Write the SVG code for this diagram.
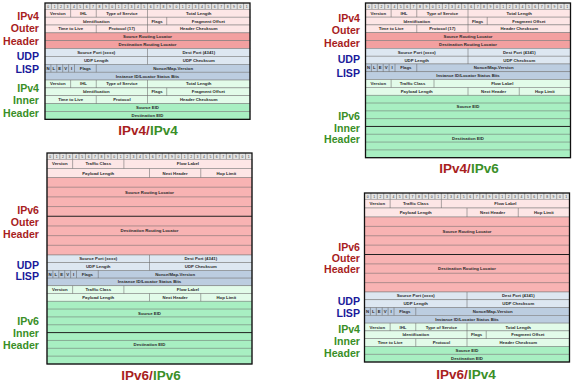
<svg xmlns="http://www.w3.org/2000/svg" xmlns:xlink="http://www.w3.org/1999/xlink" width="579" height="382" viewBox="0 0 579 382">
<style>
.o1{fill:#fde6e6;stroke:#777;stroke-width:.5}
.o2{fill:#f3a0a0;stroke:#777;stroke-width:.5}
.o3{fill:#f8b3b3;stroke:#777;stroke-width:.5}
.u1{fill:#dde7f1;stroke:#777;stroke-width:.5}
.u2{fill:#bccde0;stroke:#777;stroke-width:.5}
.i1{fill:#e2fbe9;stroke:#777;stroke-width:.5}
.i2{fill:#a8efc2;stroke:#777;stroke-width:.5}
.dv{fill:none;stroke:#666;stroke-width:.55}
.hl{fill:none;stroke:#666;stroke-width:.5}
.tk{fill:none;stroke:#222;stroke-width:1}
.bd{fill:none;stroke:#111;stroke-width:1.3}
.t{font-family:"Liberation Sans",Arial,sans-serif;font-size:4.3px;font-weight:bold;fill:#2a2a2a;text-anchor:middle}
.dg{font-family:"Liberation Sans",Arial,sans-serif;font-size:3.4px;fill:#333;text-anchor:middle}
.lab{font-family:"Liberation Sans",Arial,sans-serif;font-size:10.6px;font-weight:bold;text-anchor:end}
.ttl{font-family:"Liberation Sans",Arial,sans-serif;font-size:13.5px;font-weight:bold;text-anchor:middle}
.r{fill:#a81e1e}
.b{fill:#1a1a9a}
.g{fill:#3a8f28}
</style>
<defs>
<g id="bits">
<rect x="0" y="0" width="205" height="6.3" fill="#e4e4e4"/>
<path class="dv" d="M6.41 0V6.3M12.81 0V6.3M19.22 0V6.3M25.63 0V6.3M32.03 0V6.3M38.44 0V6.3M44.84 0V6.3M51.25 0V6.3M57.66 0V6.3M64.06 0V6.3M70.47 0V6.3M76.88 0V6.3M83.28 0V6.3M89.69 0V6.3M96.09 0V6.3M102.5 0V6.3M108.91 0V6.3M115.31 0V6.3M121.72 0V6.3M128.13 0V6.3M134.53 0V6.3M140.94 0V6.3M147.34 0V6.3M153.75 0V6.3M160.16 0V6.3M166.56 0V6.3M172.97 0V6.3M179.38 0V6.3M185.78 0V6.3M192.19 0V6.3M198.59 0V6.3"/>
<text class="dg" y="4.5" x="3.2 9.61 16.02 22.42 28.83 35.23 41.64 48.05 54.45 60.86 67.27 73.67 80.08 86.48 92.89 99.3 105.7 112.11 118.52 124.92 131.33 137.73 144.14 150.55 156.95 163.36 169.77 176.17 182.58 188.98 195.39 201.8">01234567890123456789012345678901</text>
</g>
</defs>

<!-- Panel 1: IPv4/IPv4 -->
<g id="ipv4-ipv4">
<g id="p1-labels">
<text class="lab r" x="39" y="20">IPv4</text>
<text class="lab r" x="39" y="32">Outer</text>
<text class="lab r" x="39" y="45">Header</text>
<text class="lab b" x="39" y="60">UDP</text>
<text class="lab b" x="39" y="73">LISP</text>
<text class="lab g" x="39" y="91.5">IPv4</text>
<text class="lab g" x="39" y="103.5">Inner</text>
<text class="lab g" x="39" y="116.5">Header</text>
</g>
<g id="p1-table" transform="translate(45,0)">
<use href="#bits" xlink:href="#bits" y="3"/>
<rect class="o1" y="9.3" width="205" height="7.86"/>
<rect class="o1" y="17.16" width="205" height="7.86"/>
<rect class="o1" y="25.02" width="205" height="7.86"/>
<rect class="o2" y="32.88" width="205" height="7.86"/>
<rect class="o2" y="40.74" width="205" height="7.86"/>
<rect class="u1" y="48.6" width="205" height="7.86"/>
<rect class="u1" y="56.46" width="205" height="7.86"/>
<rect class="u2" y="64.32" width="205" height="7.86"/>
<rect class="u2" y="72.18" width="205" height="7.86"/>
<rect class="i1" y="80.04" width="205" height="7.86"/>
<rect class="i1" y="87.9" width="205" height="7.86"/>
<rect class="i1" y="95.76" width="205" height="7.86"/>
<rect class="i2" y="103.62" width="205" height="7.86"/>
<rect class="i2" y="111.48" width="205" height="7.86"/>
<path class="dv" d="M25.63 9.3V17.16M51.25 9.3V17.16M102.5 9.3V17.16M102.5 17.16V25.02M121.72 17.16V25.02M51.25 25.02V32.88M102.5 25.02V32.88M102.5 48.6V64.32M5.9 64.32V72.18M11.8 64.32V72.18M17.7 64.32V72.18M23.6 64.32V72.18M29.5 64.32V72.18M51.25 64.32V72.18M25.63 80.04V87.9M51.25 80.04V87.9M102.5 80.04V87.9M102.5 87.9V95.76M121.72 87.9V95.76M51.25 95.76V103.62M102.5 95.76V103.62"/>
<text class="t" x="12.81" y="14.73">Version</text>
<text class="t" x="38.44" y="14.73">IHL</text>
<text class="t" x="76.88" y="14.73">Type of Service</text>
<text class="t" x="153.75" y="14.73">Total Length</text>
<text class="t" x="51.25" y="22.59">Identification</text>
<text class="t" x="112.11" y="22.59">Flags</text>
<text class="t" x="163.36" y="22.59">Fragment Offset</text>
<text class="t" x="25.63" y="30.45">Time to Live</text>
<text class="t" x="76.88" y="30.45">Protocol (17)</text>
<text class="t" x="153.75" y="30.45">Header Checksum</text>
<text class="t" x="102.5" y="38.31">Source Routing Locator</text>
<text class="t" x="102.5" y="46.17">Destination Routing Locator</text>
<text class="t" x="51.25" y="54.03">Source Port (xxxx)</text>
<text class="t" x="153.75" y="54.03">Dest Port (4341)</text>
<text class="t" x="51.25" y="61.89">UDP Length</text>
<text class="t" x="153.75" y="61.89">UDP Checksum</text>
<text class="t" x="2.95" y="69.75">N</text>
<text class="t" x="8.85" y="69.75">L</text>
<text class="t" x="14.75" y="69.75">E</text>
<text class="t" x="20.65" y="69.75">V</text>
<text class="t" x="26.55" y="69.75">I</text>
<text class="t" x="40.4" y="69.75">Flags</text>
<text class="t" x="128.1" y="69.75">Nonce/Map-Version</text>
<text class="t" x="102.5" y="77.61">Instance ID/Locator Status Bits</text>
<text class="t" x="12.81" y="85.47">Version</text>
<text class="t" x="38.44" y="85.47">IHL</text>
<text class="t" x="76.88" y="85.47">Type of Service</text>
<text class="t" x="153.75" y="85.47">Total Length</text>
<text class="t" x="51.25" y="93.33">Identification</text>
<text class="t" x="112.11" y="93.33">Flags</text>
<text class="t" x="163.36" y="93.33">Fragment Offset</text>
<text class="t" x="25.63" y="101.19">Time to Live</text>
<text class="t" x="76.88" y="101.19">Protocol</text>
<text class="t" x="153.75" y="101.19">Header Checksum</text>
<text class="t" x="102.5" y="109.05">Source EID</text>
<text class="t" x="102.5" y="116.91">Destination EID</text>
<rect class="bd" x="0" y="3" width="205" height="116.34"/>
</g>
<text class="ttl" x="148" y="135"><tspan class="r">IPv4/</tspan><tspan class="g">IPv4</tspan></text>
</g>

<!-- Panel 2: IPv4/IPv6 -->
<g id="ipv4-ipv6">
<g id="p2-labels">
<text class="lab r" x="360" y="22">IPv4</text>
<text class="lab r" x="360" y="33.5">Outer</text>
<text class="lab r" x="360" y="47">Header</text>
<text class="lab b" x="360" y="63">UDP</text>
<text class="lab b" x="360" y="77">LISP</text>
<text class="lab g" x="360" y="120">IPv6</text>
<text class="lab g" x="360" y="132">Inner</text>
<text class="lab g" x="360" y="143">Header</text>
</g>
<g id="p2-table" transform="translate(365.5,0)">
<use href="#bits" xlink:href="#bits" y="3"/>
<rect class="o1" y="9.3" width="205" height="7.81"/>
<rect class="o1" y="17.11" width="205" height="7.81"/>
<rect class="o1" y="24.92" width="205" height="7.81"/>
<rect class="o2" y="32.73" width="205" height="7.81"/>
<rect class="o2" y="40.54" width="205" height="7.81"/>
<rect class="u1" y="48.35" width="205" height="7.81"/>
<rect class="u1" y="56.16" width="205" height="7.81"/>
<rect class="u2" y="63.97" width="205" height="7.81"/>
<rect class="u2" y="71.78" width="205" height="7.81"/>
<rect class="i1" y="79.59" width="205" height="7.81"/>
<rect class="i1" y="87.4" width="205" height="7.81"/>
<rect class="i2" y="95.21" width="205" height="62.48"/>
<path class="hl" d="M0 103.02H205M0 110.83H205M0 118.64H205M0 134.26H205M0 142.07H205M0 149.88H205"/>
<path class="tk" d="M0 126.45H205"/>
<path class="dv" d="M25.63 9.3V17.11M51.25 9.3V17.11M102.5 9.3V17.11M102.5 17.11V24.92M121.72 17.11V24.92M51.25 24.92V32.73M102.5 24.92V32.73M102.5 48.35V63.97M5.9 63.97V71.78M11.8 63.97V71.78M17.7 63.97V71.78M23.6 63.97V71.78M29.5 63.97V71.78M51.25 63.97V71.78M25.63 79.59V87.4M68.5 79.59V87.4M102.5 87.4V95.21M153.75 87.4V95.21"/>
<text class="t" x="12.81" y="14.7">Version</text>
<text class="t" x="38.44" y="14.7">IHL</text>
<text class="t" x="76.88" y="14.7">Type of Service</text>
<text class="t" x="153.75" y="14.7">Total Length</text>
<text class="t" x="51.25" y="22.51">Identification</text>
<text class="t" x="112.11" y="22.51">Flags</text>
<text class="t" x="163.36" y="22.51">Fragment Offset</text>
<text class="t" x="25.63" y="30.32">Time to Live</text>
<text class="t" x="76.88" y="30.32">Protocol (17)</text>
<text class="t" x="153.75" y="30.32">Header Checksum</text>
<text class="t" x="102.5" y="38.13">Source Routing Locator</text>
<text class="t" x="102.5" y="45.94">Destination Routing Locator</text>
<text class="t" x="51.25" y="53.75">Source Port (xxxx)</text>
<text class="t" x="153.75" y="53.75">Dest Port (4341)</text>
<text class="t" x="51.25" y="61.56">UDP Length</text>
<text class="t" x="153.75" y="61.56">UDP Checksum</text>
<text class="t" x="2.95" y="69.37">N</text>
<text class="t" x="8.85" y="69.37">L</text>
<text class="t" x="14.75" y="69.37">E</text>
<text class="t" x="20.65" y="69.37">V</text>
<text class="t" x="26.55" y="69.37">I</text>
<text class="t" x="40.4" y="69.37">Flags</text>
<text class="t" x="128.1" y="69.37">Nonce/Map-Version</text>
<text class="t" x="102.5" y="77.18">Instance ID/Locator Status Bits</text>
<text class="t" x="12.81" y="84.99">Version</text>
<text class="t" x="47.06" y="84.99">Traffic Class</text>
<text class="t" x="136.75" y="84.99">Flow Label</text>
<text class="t" x="51.25" y="92.8">Payload Length</text>
<text class="t" x="128.13" y="92.8">Next Header</text>
<text class="t" x="179.38" y="92.8">Hop Limit</text>
<text class="t" x="102.5" y="108.42">Source EID</text>
<text class="t" x="102.5" y="139.66">Destination EID</text>
<rect class="bd" x="0" y="3" width="205" height="154.69"/>
</g>
<text class="ttl" x="469" y="173"><tspan class="r">IPv4/</tspan><tspan class="g">IPv6</tspan></text>
</g>

<!-- Panel 3: IPv6/IPv6 -->
<g id="ipv6-ipv6">
<g id="p3-labels">
<text class="lab r" x="39" y="214">IPv6</text>
<text class="lab r" x="39" y="226">Outer</text>
<text class="lab r" x="39" y="238">Header</text>
<text class="lab b" x="39" y="268.5">UDP</text>
<text class="lab b" x="39" y="280">LISP</text>
<text class="lab g" x="39" y="325">IPv6</text>
<text class="lab g" x="39" y="337">Inner</text>
<text class="lab g" x="39" y="348.5">Header</text>
</g>
<g id="p3-table" transform="translate(47,0)">
<use href="#bits" xlink:href="#bits" y="153"/>
<rect class="o1" y="159.3" width="205" height="9.2"/>
<rect class="o1" y="168.5" width="205" height="9"/>
<rect class="o3" y="177.5" width="205" height="77.5"/>
<path class="hl" d="M0 187.19H205M0 196.88H205M0 206.56H205M0 225.94H205M0 235.63H205M0 245.31H205"/>
<path class="tk" d="M0 216.25H205"/>
<rect class="u1" y="255" width="205" height="7.7"/>
<rect class="u1" y="262.7" width="205" height="7.7"/>
<rect class="u2" y="270.4" width="205" height="7.7"/>
<rect class="u2" y="278.1" width="205" height="7.7"/>
<rect class="i1" y="285.8" width="205" height="7.7"/>
<rect class="i1" y="293.5" width="205" height="7.7"/>
<rect class="i2" y="301.2" width="205" height="62.8"/>
<path class="hl" d="M0 309.05H205M0 316.9H205M0 324.75H205M0 340.45H205M0 348.3H205M0 356.15H205"/>
<path class="tk" d="M0 332.6H205"/>
<path class="dv" d="M25.63 159.3V168.5M76.88 159.3V168.5M102.5 168.5V177.5M153.75 168.5V177.5M102.5 255V270.4M5.9 270.4V278.1M11.8 270.4V278.1M17.7 270.4V278.1M23.6 270.4V278.1M29.5 270.4V278.1M51.25 270.4V278.1M25.63 285.8V293.5M76.88 285.8V293.5M102.5 293.5V301.2M153.75 293.5V301.2"/>
<text class="t" x="12.81" y="165.4">Version</text>
<text class="t" x="51.25" y="165.4">Traffic Class</text>
<text class="t" x="140.94" y="165.4">Flow Label</text>
<text class="t" x="51.25" y="174.5">Payload Length</text>
<text class="t" x="128.13" y="174.5">Next Header</text>
<text class="t" x="179.38" y="174.5">Hop Limit</text>
<text class="t" x="102.5" y="193.5">Source Routing Locator</text>
<text class="t" x="102.5" y="232.3">Destination Routing Locator</text>
<text class="t" x="51.25" y="260.35">Source Port (xxxx)</text>
<text class="t" x="153.75" y="260.35">Dest Port (4341)</text>
<text class="t" x="51.25" y="268.05">UDP Length</text>
<text class="t" x="153.75" y="268.05">UDP Checksum</text>
<text class="t" x="2.95" y="275.75">N</text>
<text class="t" x="8.85" y="275.75">L</text>
<text class="t" x="14.75" y="275.75">E</text>
<text class="t" x="20.65" y="275.75">V</text>
<text class="t" x="26.55" y="275.75">I</text>
<text class="t" x="40.4" y="275.75">Flags</text>
<text class="t" x="128.1" y="275.75">Nonce/Map-Version</text>
<text class="t" x="102.5" y="283.45">Instance ID/Locator Status Bits</text>
<text class="t" x="12.81" y="291.15">Version</text>
<text class="t" x="51.25" y="291.15">Traffic Class</text>
<text class="t" x="140.94" y="291.15">Flow Label</text>
<text class="t" x="51.25" y="298.85">Payload Length</text>
<text class="t" x="128.13" y="298.85">Next Header</text>
<text class="t" x="179.38" y="298.85">Hop Limit</text>
<text class="t" x="102.5" y="314.5">Source EID</text>
<text class="t" x="102.5" y="345.9">Destination EID</text>
<rect class="bd" x="0" y="153" width="205" height="211"/>
</g>
<text class="ttl" x="151" y="380"><tspan class="r">IPv6/</tspan><tspan class="g">IPv6</tspan></text>
</g>

<!-- Panel 4: IPv6/IPv4 -->
<g id="ipv6-ipv4">
<g id="p4-labels">
<text class="lab r" x="360" y="251">IPv6</text>
<text class="lab r" x="360" y="262">Outer</text>
<text class="lab r" x="360" y="273">Header</text>
<text class="lab b" x="360" y="305">UDP</text>
<text class="lab b" x="360" y="317">LISP</text>
<text class="lab g" x="360" y="333">IPv4</text>
<text class="lab g" x="360" y="345">Inner</text>
<text class="lab g" x="360" y="357">Header</text>
</g>
<g id="p4-table" transform="translate(364.5,0)">
<use href="#bits" xlink:href="#bits" y="193"/>
<rect class="o1" y="199.3" width="205" height="8.7"/>
<rect class="o1" y="208" width="205" height="9"/>
<rect class="o3" y="217" width="205" height="75"/>
<path class="hl" d="M0 226.38H205M0 235.75H205M0 245.13H205M0 263.88H205M0 273.25H205M0 282.63H205"/>
<path class="tk" d="M0 254.5H205"/>
<rect class="u1" y="292" width="205" height="7.8"/>
<rect class="u1" y="299.8" width="205" height="7.8"/>
<rect class="u2" y="307.6" width="205" height="7.7"/>
<rect class="u2" y="315.3" width="205" height="7.8"/>
<rect class="i1" y="323.1" width="205" height="7.8"/>
<rect class="i1" y="330.9" width="205" height="7.8"/>
<rect class="i1" y="338.7" width="205" height="7.7"/>
<rect class="i2" y="346.4" width="205" height="7.8"/>
<rect class="i2" y="354.2" width="205" height="7.8"/>
<path class="dv" d="M25.63 199.3V208M76.88 199.3V208M102.5 208V217M153.75 208V217M102.5 292V307.6M5.9 307.6V315.3M11.8 307.6V315.3M17.7 307.6V315.3M23.6 307.6V315.3M29.5 307.6V315.3M51.25 307.6V315.3M25.63 323.1V330.9M51.25 323.1V330.9M102.5 323.1V330.9M102.5 330.9V338.7M121.72 330.9V338.7M51.25 338.7V346.4M102.5 338.7V346.4"/>
<text class="t" x="12.81" y="205.2">Version</text>
<text class="t" x="51.25" y="205.2">Traffic Class</text>
<text class="t" x="140.94" y="205.2">Flow Label</text>
<text class="t" x="51.25" y="214">Payload Length</text>
<text class="t" x="128.13" y="214">Next Header</text>
<text class="t" x="179.38" y="214">Hop Limit</text>
<text class="t" x="102.5" y="232.6">Source Routing Locator</text>
<text class="t" x="102.5" y="270.1">Destination Routing Locator</text>
<text class="t" x="51.25" y="297.4">Source Port (xxxx)</text>
<text class="t" x="153.75" y="297.4">Dest Port (4341)</text>
<text class="t" x="51.25" y="305.2">UDP Length</text>
<text class="t" x="153.75" y="305.2">UDP Checksum</text>
<text class="t" x="2.95" y="312.95">N</text>
<text class="t" x="8.85" y="312.95">L</text>
<text class="t" x="14.75" y="312.95">E</text>
<text class="t" x="20.65" y="312.95">V</text>
<text class="t" x="26.55" y="312.95">I</text>
<text class="t" x="40.4" y="312.95">Flags</text>
<text class="t" x="128.1" y="312.95">Nonce/Map-Version</text>
<text class="t" x="102.5" y="320.7">Instance ID/Locator Status Bits</text>
<text class="t" x="12.81" y="328.5">Version</text>
<text class="t" x="38.44" y="328.5">IHL</text>
<text class="t" x="76.88" y="328.5">Type of Service</text>
<text class="t" x="153.75" y="328.5">Total Length</text>
<text class="t" x="51.25" y="336.3">Identification</text>
<text class="t" x="112.11" y="336.3">Flags</text>
<text class="t" x="163.36" y="336.3">Fragment Offset</text>
<text class="t" x="25.63" y="344.05">Time to Live</text>
<text class="t" x="76.88" y="344.05">Protocol</text>
<text class="t" x="153.75" y="344.05">Header Checksum</text>
<text class="t" x="102.5" y="351.8">Source EID</text>
<text class="t" x="102.5" y="359.6">Destination EID</text>
<rect class="bd" x="0" y="193" width="205" height="169"/>
</g>
<text class="ttl" x="466" y="379"><tspan class="r">IPv6/</tspan><tspan class="g">IPv4</tspan></text>
</g>
</svg>
